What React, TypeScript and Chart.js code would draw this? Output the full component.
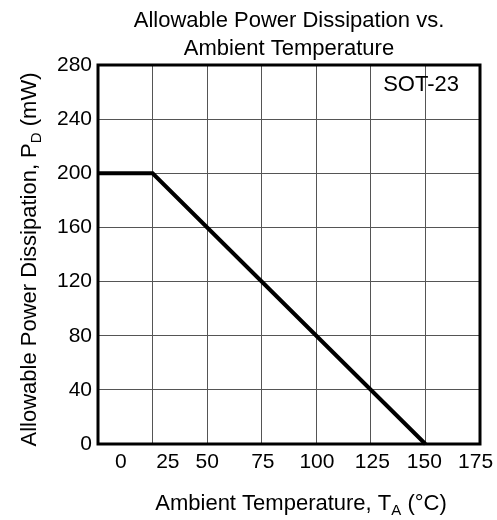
import React, { useEffect, useRef } from "react";
import { Chart, registerables } from "chart.js";

Chart.register(...registerables);

// ---- data ----
const temperatures = [0, 25, 150];
const powerMW = [200, 200, 0];
const xGridTicks = [0, 25, 50, 75, 100, 125, 150, 175];
const xTickLabels = ["0", "25", "50", "75", "100", "125", "150", "175"];
// where each x tick label sits along the axis (the original labels are hand-placed)
const xTickLabelAnchors = [10.5, 32, 50, 75.5, 100.3, 125.7, 149.5, 173];
const yMin = 0;
const yMax = 280;
const yStep = 40;
const xMin = 0;
const xMax = 175;
const titleLines = ["Allowable Power Dissipation vs.", "Ambient Temperature"];
const yTitleParts = [{ t: "Allowable Power Dissipation, P" }, { t: "D", sub: true }, { t: " (mW)" }];
const xTitleParts = [{ t: "Ambient Temperature, T" }, { t: "A", sub: true }, { t: " (°C)" }];
const packageLabel = "SOT-23";
const packageLabelAt = { x: 148, y: 265 };

const FONT = "'Liberation Sans', Arial, Helvetica, sans-serif";

type Part = { t: string; sub?: boolean };

function drawRich(ctx: CanvasRenderingContext2D, parts: Part[], size: number, subSize: number) {
  const widths = parts.map((p) => {
    ctx.font = `${p.sub ? subSize : size}px ${FONT}`;
    return ctx.measureText(p.t).width;
  });
  const total = widths.reduce((a, b) => a + b, 0);
  let x = -total / 2;
  parts.forEach((p, i) => {
    ctx.font = `${p.sub ? subSize : size}px ${FONT}`;
    ctx.fillText(p.t, x, p.sub ? size * 0.22 : 0);
    x += widths[i];
  });
}

const textPlugin = {
  id: "textPlugin",
  afterDraw(chart: any) {
    const ctx: CanvasRenderingContext2D = chart.ctx;
    const a = chart.chartArea;
    const cx = (a.left + a.right) / 2;
    ctx.save();
    // frame
    ctx.strokeStyle = "#000";
    ctx.lineWidth = 3;
    ctx.strokeRect(a.left, a.top, a.right - a.left, a.bottom - a.top);
    ctx.fillStyle = "#000";
    ctx.textBaseline = "alphabetic";
    ctx.textAlign = "left";
    // title
    ctx.font = `22px ${FONT}`;
    titleLines.forEach((line, i) => {
      const w = ctx.measureText(line).width;
      ctx.fillText(line, cx - w / 2, 27 + i * 28);
    });
    // x title
    ctx.save();
    ctx.translate(cx + 12, 510);
    drawRich(ctx, xTitleParts, 22, 15);
    ctx.restore();
    // y title
    ctx.save();
    ctx.translate(36, (a.top + a.bottom) / 2 + 5);
    ctx.rotate(-Math.PI / 2);
    drawRich(ctx, yTitleParts, 22, 15);
    ctx.restore();
    // package label
    const xs = chart.scales.x;
    const ys = chart.scales.y;
    ctx.font = `22px ${FONT}`;
    ctx.textAlign = "center";
    ctx.textBaseline = "middle";
    ctx.fillText(packageLabel, xs.getPixelForValue(packageLabelAt.x), ys.getPixelForValue(packageLabelAt.y));
    ctx.restore();
  },
};

export default function App() {
  const ref = useRef<HTMLCanvasElement | null>(null);
  useEffect(() => {
    document.body.style.margin = "0";
    const canvas = ref.current!;
    const chart = new Chart(canvas, {
      type: "line",
      data: {
        datasets: [
          {
            data: temperatures.map((t, i) => ({ x: t, y: powerMW[i] })),
            borderColor: "#000",
            borderWidth: 4,
            pointRadius: 0,
            tension: 0,
            fill: false,
            clip: false as any,
            xAxisID: "x",
            yAxisID: "y",
          },
        ],
      },
      options: {
        animation: false,
        responsive: false,
        devicePixelRatio: 1,
        layout: { padding: { top: 65, right: 17, left: 0, bottom: 0 } },
        plugins: { legend: { display: false }, title: { display: false }, tooltip: { enabled: false } },
        scales: {
          x: {
            type: "linear",
            position: "bottom",
            min: xMin,
            max: xMax,
            afterBuildTicks: (s: any) => {
              s.ticks = xGridTicks.map((v) => ({ value: v }));
            },
            afterFit: (s: any) => {
              s.height = 0;
              s.paddingLeft = 0;
              s.paddingRight = 0;
            },
            ticks: { display: false },
            grid: { color: "#555", lineWidth: 1, drawTicks: false },
            border: { display: false },
          },
          x2: {
            type: "linear",
            position: "bottom",
            min: xMin,
            max: xMax,
            afterBuildTicks: (s: any) => {
              s.ticks = xTickLabelAnchors.map((v) => ({ value: v }));
            },
            afterFit: (s: any) => {
              s.height = 76;
              s.paddingLeft = 0;
              s.paddingRight = 0;
            },
            ticks: {
              autoSkip: false,
              maxRotation: 0,
              padding: 6,
              color: "#000",
              font: { family: FONT, size: 21 },
              callback: (_v: any, i: number) => xTickLabels[i],
            },
            grid: { display: false, drawTicks: false },
            border: { display: false },
          },
          y: {
            type: "linear",
            position: "left",
            min: yMin,
            max: yMax,
            ticks: {
              stepSize: yStep,
              padding: 6,
              color: "#000",
              font: { family: FONT, size: 21 },
            },
            afterFit: (s: any) => {
              s.width = 98;
              s.paddingTop = 0;
              s.paddingBottom = 0;
            },
            grid: { color: "#555", lineWidth: 1, drawTicks: false },
            border: { display: false },
          },
        },
      },
      plugins: [textPlugin],
    } as any);
    return () => chart.destroy();
  }, []);
  return (
    <div style={{ width: 497, height: 520 }}>
      <canvas ref={ref} width={497} height={520} style={{ display: "block" }} />
    </div>
  );
}
